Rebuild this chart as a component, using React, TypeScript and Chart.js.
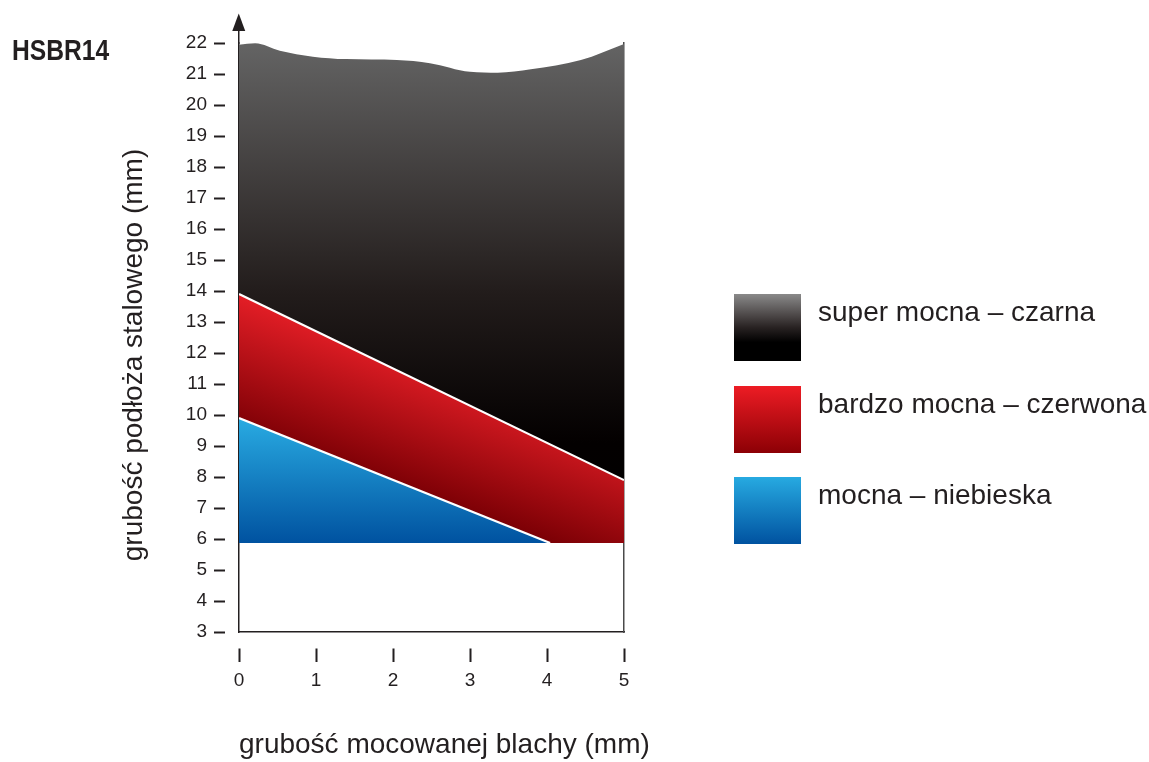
import React, { useEffect, useRef } from "react";
import { Chart, registerables } from "chart.js";

Chart.register(...registerables);

// ---------- data ----------
const chartTitle = "HSBR14";
const xAxisTitle = "grubość mocowanej blachy (mm)";
const yAxisTitle = "grubość podłoża stalowego (mm)";

const xRange = [0, 5];
const xStep = 1;
const yRange = [3, 22];
const yStep = 1;
const zoneBase = 5.87;

const seriesLabels = ["super mocna – czarna", "bardzo mocna – czerwona", "mocna – niebieska"];

const superX = [0, 0.21, 0.53, 0.96, 1.39, 2.05, 2.48, 3.0, 3.36, 3.79, 4.44, 5.0];
const superY = [21.94, 21.99, 21.75, 21.56, 21.48, 21.45, 21.35, 21.07, 21.04, 21.15, 21.45, 21.97];
const redX = [0, 5];
const redY = [13.9, 7.9];
const blueX = [0, 4.04];
const blueY = [9.9, 5.87];

// ---------- styles ----------
const INK = "#231f20";
const FONT = "'Liberation Sans', Arial, Helvetica, sans-serif";
const legendStops: [number, string][][] = [
  [[0, "#8a8a8a"], [0.33, "#4a4545"], [0.5, "#282222"], [0.72, "#000000"], [1, "#000000"]],
  [[0, "#ed1c24"], [1, "#8c0005"]],
  [[0, "#27aae1"], [1, "#0052a0"]],
];

const pts = (xs: number[], ys: number[]) => xs.map((x, i) => ({ x, y: ys[i] }));

const blackGrad = (c: any) => {
  const chart = c.chart;
  if (!chart.chartArea) return "#222";
  const y = chart.scales.y;
  const g = chart.ctx.createLinearGradient(0, y.getPixelForValue(yRange[1]), 0, y.getPixelForValue(zoneBase));
  g.addColorStop(0, "#646464");
  g.addColorStop(0.5, "#221c1b");
  g.addColorStop(0.8, "#030000");
  g.addColorStop(1, "#000000");
  return g;
};

const redGrad = (c: any) => {
  const chart = c.chart;
  if (!chart.chartArea) return "#c0141c";
  const x0 = chart.scales.x.getPixelForValue(redX[0]);
  const y0 = chart.scales.y.getPixelForValue(redY[0]);
  const g = chart.ctx.createLinearGradient(x0, y0, x0 - 43, y0 + 119);
  g.addColorStop(0, "#e41e26");
  g.addColorStop(1, "#7c0005");
  return g;
};

const blueGrad = (c: any) => {
  const chart = c.chart;
  if (!chart.chartArea) return "#1a7cc4";
  const y = chart.scales.y;
  const g = chart.ctx.createLinearGradient(0, y.getPixelForValue(blueY[0]), 0, y.getPixelForValue(zoneBase));
  g.addColorStop(0, "#29abe2");
  g.addColorStop(1, "#0052a0");
  return g;
};

const decorPlugin = {
  id: "decor",
  afterDraw(chart: any) {
    const ctx = chart.ctx as CanvasRenderingContext2D;
    const area = chart.chartArea;
    ctx.save();
    // axis arrow
    const ax = Math.round(area.left) - 0.25;
    ctx.strokeStyle = INK;
    ctx.lineWidth = 1.5;
    ctx.beginPath();
    ctx.moveTo(ax, area.top + 1);
    ctx.lineTo(ax, 26);
    ctx.stroke();
    ctx.fillStyle = INK;
    ctx.beginPath();
    ctx.moveTo(ax, 13.5);
    ctx.lineTo(ax - 6.5, 31);
    ctx.lineTo(ax + 6.5, 31);
    ctx.closePath();
    ctx.fill();

    // title (condensed bold)
    ctx.save();
    ctx.fillStyle = INK;
    ctx.translate(12, 60);
    ctx.scale(0.82, 1);
    ctx.font = `bold 30px ${FONT}`;
    ctx.textAlign = "left";
    ctx.textBaseline = "alphabetic";
    ctx.fillText(chartTitle, 0, 0);
    ctx.restore();

    // y axis title
    ctx.save();
    ctx.fillStyle = INK;
    ctx.translate(142, 355);
    ctx.rotate(-Math.PI / 2);
    ctx.font = `28px ${FONT}`;
    ctx.textAlign = "center";
    ctx.textBaseline = "alphabetic";
    ctx.fillText(yAxisTitle, 0, 0);
    ctx.restore();

    // x axis title (starts at the axis origin, not width-limited)
    ctx.fillStyle = INK;
    ctx.font = `28px ${FONT}`;
    ctx.textAlign = "left";
    ctx.textBaseline = "alphabetic";
    ctx.fillText(xAxisTitle, chart.scales.x.getPixelForValue(xRange[0]), 753);

    // legend
    const tops = [294, 386, 477];
    const size = 67;
    const left = 734;
    seriesLabels.forEach((label, i) => {
      const top = tops[i];
      const g = ctx.createLinearGradient(0, top, 0, top + size);
      legendStops[i].forEach(([o, col]) => g.addColorStop(o, col));
      ctx.fillStyle = g;
      ctx.fillRect(left, top, size, size);
      ctx.fillStyle = INK;
      ctx.font = `28px ${FONT}`;
      ctx.textAlign = "left";
      ctx.textBaseline = "alphabetic";
      ctx.fillText(label, 818, top + 27);
    });
    ctx.restore();
  },
};

export default function App() {
  const ref = useRef<HTMLCanvasElement | null>(null);
  useEffect(() => {
    if (!ref.current) return;
    const chart = new Chart(ref.current, {
      type: "line",
      data: {
        datasets: [
          {
            label: seriesLabels[2],
            data: pts(blueX, blueY),
            fill: { value: zoneBase },
            backgroundColor: blueGrad,
            borderColor: "#ffffff",
            borderWidth: 2.2,
            pointRadius: 0,
            tension: 0,
          },
          {
            label: seriesLabels[1],
            data: pts(redX, redY),
            fill: { value: zoneBase },
            backgroundColor: redGrad,
            borderColor: "#ffffff",
            borderWidth: 2.2,
            pointRadius: 0,
            tension: 0,
          },
          {
            label: seriesLabels[0],
            data: pts(superX, superY),
            fill: { value: zoneBase },
            backgroundColor: blackGrad,
            borderColor: "rgba(0,0,0,0)",
            borderWidth: 0,
            pointRadius: 0,
            cubicInterpolationMode: "monotone",
          },
        ] as any,
      },
      options: {
        animation: false,
        responsive: true,
        maintainAspectRatio: false,
        events: [],
        layout: { padding: { left: 0, top: 43, right: 525, bottom: 0 } },
        plugins: {
          legend: { display: false },
          tooltip: { enabled: false },
          title: { display: false },
        },
        scales: {
          x: {
            type: "linear",
            position: "bottom",
            min: xRange[0],
            max: xRange[1],
            ticks: { stepSize: xStep, color: INK, font: { family: FONT, size: 19 }, padding: 7, maxRotation: 0 },
            grid: {
              drawOnChartArea: false,
              drawTicks: true,
              tickLength: 30,
              tickWidth: 2,
              tickColor: INK,
              tickBorderDash: [0, 16, 14, 100],
            },
            border: { display: true, color: INK, width: 1.5 },
            title: { display: false },
            afterFit: (s: any) => {
              s.height = 130;
            },
          },
          y: {
            type: "linear",
            position: "left",
            min: yRange[0],
            max: yRange[1],
            ticks: { stepSize: yStep, color: INK, font: { family: FONT, size: 19 }, padding: 7 },
            grid: {
              drawOnChartArea: false,
              drawTicks: true,
              tickLength: 25,
              tickWidth: 2,
              tickColor: INK,
              tickBorderDash: [11, 40],
            },
            border: { display: true, color: INK, width: 1.5 },
            afterFit: (s: any) => {
              s.width = 239;
            },
          },
          y2: {
            type: "linear",
            position: "right",
            min: yRange[0],
            max: yRange[1],
            ticks: { display: false },
            grid: { drawOnChartArea: false, drawTicks: false },
            border: { display: true, color: "#4a4a4a", width: 1.5 },
            afterFit: (s: any) => {
              s.width = 0;
            },
          },
        },
      } as any,
      plugins: [decorPlugin],
    });
    return () => chart.destroy();
  }, []);

  return (
    <div style={{ position: "absolute", left: 0, top: 0, width: 1149, height: 762 }}>
      <canvas ref={ref} />
    </div>
  );
}
